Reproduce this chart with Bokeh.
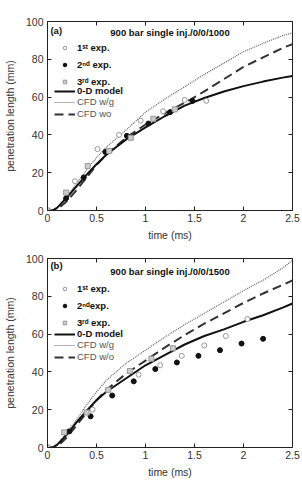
from bokeh.plotting import figure
from bokeh.layouts import column
from bokeh.models import Range1d, LinearAxis, Label, Legend, LegendItem, FixedTicker
from bokeh.embed import file_html
from bokeh.resources import INLINE

FONT = "Liberation Sans"

# time axis for the model curves (ms)
t_model = [0, 0.05, 0.1, 0.2, 0.3, 0.4, 0.5, 0.6, 0.8, 1.0, 1.2, 1.4, 1.6, 1.8, 2.0, 2.2, 2.4, 2.5]

# (a) 900 bar, 0/0/1000
a_model_0d = [0, 0, 1.5, 7, 13, 19, 24.5, 29.5, 37.5, 44, 50, 55.5, 59.5, 63, 65.8, 68.2, 70.3, 71.2]
a_cfd_wg = [0, 0, 1.5, 7.5, 14.5, 21.5, 28, 33.5, 42.5, 52, 59, 65.5, 72, 78, 84, 88.5, 92.5, 94]
a_cfd_wo = [0, 0, 0.5, 5, 11, 17.5, 24, 29.5, 38.5, 45.5, 51.5, 57, 63, 69.5, 76, 81, 86, 88]

a_exp1_t = [0.0, 0.28, 0.51, 0.73, 0.95, 1.18, 1.40, 1.62]
a_exp1_y = [0.0, 15.5, 32.5, 40.0, 47.5, 52.5, 58.5, 58.0]
a_exp2_t = [0.19, 0.37, 0.59, 0.81, 1.03, 1.25, 1.48]
a_exp2_y = [6.5, 17.5, 31.0, 39.5, 46.0, 52.0, 58.0]
a_exp3_t = [0.0, 0.19, 0.41, 0.63, 0.85, 1.08, 1.30]
a_exp3_y = [0.0, 9.5, 23.5, 31.5, 38.5, 48.5, 53.5]

# (b) 900 bar, 0/0/1500
b_model_0d = [0, 0, 1.5, 7, 13.5, 19.5, 25, 29.5, 36.5, 43.5, 49, 54.5, 59, 62.5, 66.5, 70, 74, 76.2]
b_cfd_wg = [0, 0, 1.5, 8, 15, 22.5, 29.5, 35.5, 44.5, 51.5, 58.5, 65, 71, 77, 83, 88.5, 95, 99]
b_cfd_wo = [0, 0, 0.5, 5.5, 12, 18.5, 25, 30.5, 39, 46, 53, 59.5, 65.5, 71, 76.5, 81.5, 86, 88.4]

b_exp1_t = [0.46, 0.93, 1.15, 1.37, 1.60, 1.82, 2.04]
b_exp1_y = [20.0, 38.5, 43.5, 48.5, 54.0, 59.0, 68.0]
b_exp2_t = [0.22, 0.44, 0.66, 0.88, 1.10, 1.32, 1.54, 1.76, 1.98, 2.20]
b_exp2_y = [8.5, 16.5, 27.5, 35.0, 41.5, 45.0, 48.5, 51.5, 55.0, 57.5]
b_exp3_t = [0.0, 0.17, 0.40, 0.62, 0.84, 1.06, 1.28]
b_exp3_y = [0.0, 8.0, 18.5, 30.5, 40.5, 47.0, 52.5]

x_ticks = [0, 0.5, 1, 1.5, 2, 2.5]
y_ticks = [0, 20, 40, 60, 80, 100]

AXIS_COLOR = "#222222"


def tick_style(ax):
    ax.axis_line_color = AXIS_COLOR
    ax.major_tick_line_color = AXIS_COLOR
    ax.major_tick_in = 4
    ax.major_tick_out = 0
    ax.minor_tick_line_color = None


def panel(tag, title, model, wg, wo, e1, e2, e3, second_label, height, top, legend_y):
    p = figure(width=302, height=height, output_backend="svg", toolbar_location=None,
               x_range=Range1d(0, 2.5), y_range=Range1d(0, 100),
               min_border_left=42, min_border_right=10,
               min_border_top=top, min_border_bottom=32)
    p.outline_line_color = None
    p.grid.visible = False
    p.background_fill_color = "white"
    p.border_fill_color = "white"

    p.xaxis.ticker = FixedTicker(ticks=x_ticks)
    p.yaxis.ticker = FixedTicker(ticks=y_ticks)
    p.xaxis.axis_label = "time (ms)"
    p.yaxis.axis_label = "penetration length (mm)"
    for ax in p.xaxis + p.yaxis:
        tick_style(ax)
        ax.major_label_text_font = FONT
        ax.major_label_text_font_size = "10.5px"
        ax.major_label_text_color = "#333333"
        ax.axis_label_text_font = FONT
        ax.axis_label_text_font_size = "10.5px"
        ax.axis_label_text_font_style = "normal"
        ax.axis_label_text_color = "#333333"
    p.xaxis.major_label_standoff = 3
    p.xaxis.axis_label_standoff = 4
    p.yaxis.major_label_standoff = 4
    p.yaxis.axis_label_standoff = 7

    # mirrored inner ticks on the top and right edges of the frame
    for side, ticks in (("above", x_ticks), ("right", y_ticks)):
        ax = LinearAxis(ticker=FixedTicker(ticks=ticks),
                        major_label_overrides={t: "" for t in ticks},
                        major_label_text_font_size="1px", major_label_standoff=0)
        tick_style(ax)
        p.add_layout(ax, side)

    r_wg = p.line(t_model, wg, line_color="#666666", line_width=1.2, line_dash="1 1")
    r_wo = p.line(t_model, wo, line_color="#333333", line_width=2, line_dash="9 5")
    r_0d = p.line(t_model, model, line_color="#111111", line_width=2)

    r1 = p.scatter(e1[0], e1[1], marker="circle", size=5, fill_color="white",
                   line_color="#999999", line_width=1)
    r2 = p.scatter(e2[0], e2[1], marker="circle", size=5, fill_color="#111111",
                   line_color="#111111")
    r3 = p.scatter(e3[0], e3[1], marker="square", size=5, fill_color="#cccccc",
                   line_color="#999999", line_width=1)

    y_exp, y_0d, y_cfd = legend_y
    common = dict(padding=0, margin=0, border_line_alpha=0, background_fill_alpha=0,
                  label_text_font=FONT, label_text_font_size="9.5px",
                  glyph_width=21, label_standoff=2)
    leg_exp = Legend(items=[LegendItem(label="1ˢᵗ exp.", renderers=[r1]),
                            LegendItem(label=second_label, renderers=[r2]),
                            LegendItem(label="3ʳᵈ exp.", renderers=[r3])],
                     location=(7, y_exp), glyph_height=9, label_height=12, spacing=5,
                     label_text_font_style="bold", label_text_color="#111111", **common)
    leg_0d = Legend(items=[LegendItem(label="0-D model", renderers=[r_0d])],
                    location=(7, y_0d), glyph_height=10, label_height=10, spacing=1,
                    label_text_font_style="bold", label_text_color="#111111", **common)
    leg_cfd = Legend(items=[LegendItem(label="CFD w/g", renderers=[r_wg]),
                            LegendItem(label=title[1], renderers=[r_wo])],
                     location=(7, y_cfd), glyph_height=10, label_height=10, spacing=1,
                     label_text_font_style="normal", label_text_color="#555555", **common)
    for lg in (leg_exp, leg_0d, leg_cfd):
        p.add_layout(lg, "center")

    p.add_layout(Label(x=0.03, y=tag[1], text=tag[0], text_font=FONT,
                       text_font_size="9.5px", text_font_style="bold",
                       text_align="left", text_baseline="middle", text_color="#111111"))
    p.add_layout(Label(x=1.25, y=tag[2], text=title[0], text_font=FONT,
                       text_font_size="9.5px", text_font_style="bold",
                       text_align="center", text_baseline="middle", text_color="#111111"))
    return p


p1 = panel(("(a)", 95.3, 94.2), ("900 bar single inj./0/0/1000", "CFD wo"),
           a_model_0d, a_cfd_wg, a_cfd_wo,
           (a_exp1_t, a_exp1_y), (a_exp2_t, a_exp2_y), (a_exp3_t, a_exp3_y),
           "2ⁿᵈ exp.", 243, 21, (123, 114, 91))
p2 = panel(("(b)", 96.3, 93.2), ("900 bar single inj./0/0/1500", "CFD w/o"),
           b_model_0d, b_cfd_wg, b_cfd_wo,
           (b_exp1_t, b_exp1_y), (b_exp2_t, b_exp2_y), (b_exp3_t, b_exp3_y),
           "2ⁿᵈexp.", 237, 15, (119, 108, 85))

layout = column(p1, p2, spacing=0)
open("out.html", "w").write(file_html(layout, INLINE))
